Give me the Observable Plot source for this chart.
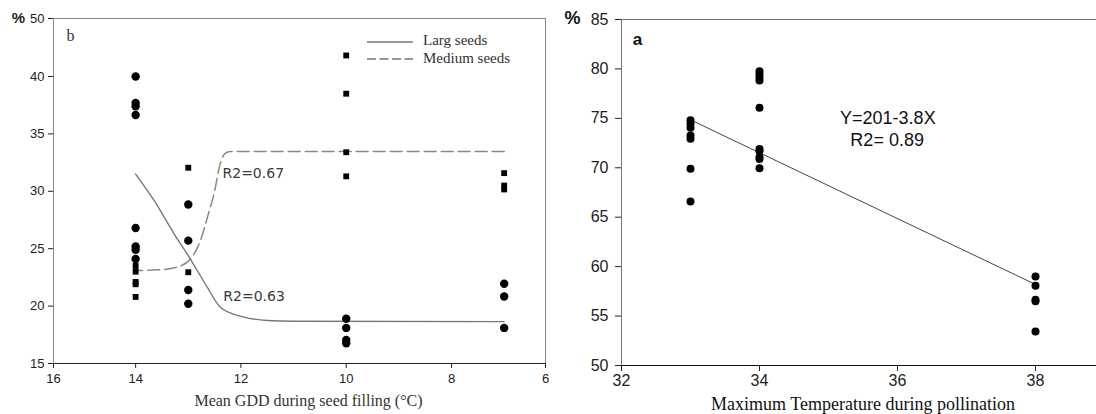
<!DOCTYPE html>
<html><head><meta charset="utf-8">
<script src="https://cdn.jsdelivr.net/npm/d3@7"></script>
<script src="https://cdn.jsdelivr.net/npm/@observablehq/plot@0.6"></script>
<style>
html,body{margin:0;padding:0;background:#fff;width:1096px;height:414px;overflow:hidden;}
#wrap{position:relative;width:1096px;height:414px;overflow:hidden;}
#left,#right{position:absolute;top:0;}
#left{left:0;width:560px;}
#right{left:560px;width:544px;}
#left svg,#right svg{max-width:none !important;display:block;}
#legend{position:absolute;left:367px;top:33px;font-family:"Liberation Serif",serif;font-size:15px;color:#333;}
#legend .row{display:flex;align-items:center;height:17.6px;}
#legend svg{margin-right:10px;}
#legend span{position:relative;top:-1px;}
</style></head>
<body>
<div id="wrap">
  <div id="left"></div>
  <div id="right"></div>
  <div id="legend">
    <div class="row"><svg width="46" height="10"><line x1="0" x2="46" y1="5" y2="5" stroke="#777" stroke-width="1.3"/></svg><span>Larg seeds</span></div>
    <div class="row"><svg width="46" height="10"><line x1="0" x2="46" y1="5" y2="5" stroke="#777" stroke-width="1.3" stroke-dasharray="9,3.5"/></svg><span>Medium seeds</span></div>
  </div>
</div>
<script>
// ---------- Panel b: Mean GDD during seed filling ----------
const gddLargeX = [14,14,14,14,14,14,14,14, 13,13,13,13, 10,10,10,10, 7,7,7];
const gddLargeY = [40.0,37.7,37.4,36.65,26.8,25.2,24.9,24.1, 28.85,25.7,21.4,20.2, 18.9,18.1,17.06,16.77, 21.94,20.84,18.1];
const gddMediumX = [14,14,14,14,14, 13,13, 10,10,10,10, 7,7,7];
const gddMediumY = [23.5,23.0,22.1,21.9,20.8, 32.05,22.95, 41.83,38.5,33.4,31.3, 31.58,30.5,30.16];
// fitted curves
const largeFitX = [7, 11, 11.5, 12.0, 12.39, 12.64, 12.96, 13.27, 13.65, 14];
const largeFitY = [18.65, 18.68, 18.75, 19.1, 19.9, 21.65, 24.1, 26.3, 29.2, 31.5];
const mediumFitX = [7, 12.2, 12.3, 12.4, 12.5, 12.62, 12.77, 12.96, 13.21, 13.53, 14];
const mediumFitY = [33.47, 33.47, 33.3, 32.3, 30.0, 28.0, 25.7, 24.1, 23.4, 23.16, 23.1];
const gddTickLabels = ["16","14","12","10","8","6"];
const gddPctTickLabels = ["15","20","25","30","35","40","50"];

// ---------- Panel a: Maximum temperature during pollination ----------
const tempX = [33,33,33,33,33,33,33, 34,34,34,34,34,34,34,34,34,34, 38,38,38,38,38];
const tempY = [74.8,74.45,74.05,73.27,72.93,69.9,66.6, 79.77,79.44,79.1,78.83,76.07,71.9,71.68,71.07,70.9,69.96, 59.0,58.06,56.65,56.5,53.44];
const tempFitX = [33, 38];
const tempFitY = [74.85, 58.2];
const tempTickLabels = ["32","34","36","38"];
const tempPctTickLabels = ["50","55","60","65","70","75","80","85"];

const zip = (xs, ys) => xs.map((x, i) => ({x, y: ys[i]}));

// left panel scale (axis drawn as in the original: end ticks sit on the frame)
const gddDomain = [15.56, 6.215];
const gddTicks = [gddDomain[0], 14, 12, 10, 8, gddDomain[1]];
const gddYDomain = [15, 45.05];
const gddYTicks = [15, 20, 25, 30, 35, 40, gddYDomain[1]];

const left = Plot.plot({
  width: 560, height: 414,
  marginLeft: 53, marginRight: 15, marginTop: 18, marginBottom: 51,
  x: {domain: gddDomain},
  y: {domain: gddYDomain},
  style: {fontFamily: "Liberation Sans, Arial, sans-serif", fontSize: "13px", color: "#222", background: "white", overflow: "visible"},
  marks: [
    Plot.frame({stroke: "#888"}),
    Plot.ruleY([gddYDomain[0]], {stroke: "#222"}),
    Plot.axisY({ticks: gddYTicks, tickFormat: (d, i) => gddPctTickLabels[i], tickSize: 5, tickPadding: 4, label: null, fontSize: 13}),
    Plot.axisX({ticks: gddTicks, tickFormat: (d, i) => gddTickLabels[i], tickSize: 5, tickPadding: 5, label: null, fontSize: 13}),
    Plot.line(zip(largeFitX, largeFitY), {x: "x", y: "y", stroke: "#777", strokeWidth: 1.4, curve: "monotone-x"}),
    Plot.line(zip(mediumFitX, mediumFitY), {x: "x", y: "y", stroke: "#888", strokeWidth: 1.5, strokeDasharray: "12,5", curve: "monotone-x"}),
    Plot.dot(zip(gddLargeX, gddLargeY), {x: "x", y: "y", r: 4.2, fill: "#000"}),
    Plot.dot(zip(gddMediumX, gddMediumY), {x: "x", y: "y", r: 3.3, symbol: "square", fill: "#000"}),
    Plot.text(["R2=0.67"], {text: d => d, x: 12.35, y: 31.55, textAnchor: "start", lineAnchor: "middle", fontFamily: "DejaVu Sans, Verdana, sans-serif", fontSize: 14, fill: "#3a3a3a"}),
    Plot.text(["R2=0.63"], {text: d => d, x: 12.335, y: 20.86, textAnchor: "start", lineAnchor: "middle", fontFamily: "DejaVu Sans, Verdana, sans-serif", fontSize: 14, fill: "#3a3a3a"}),
    Plot.text(["b"], {text: d => d, frameAnchor: "top-left", dx: 17, dy: 17, textAnchor: "middle", lineAnchor: "middle", fontFamily: "Liberation Serif, serif", fontSize: 16, fill: "#333"}),
    Plot.text(["%"], {text: d => d, frameAnchor: "top-left", dx: -35, dy: 0, textAnchor: "middle", lineAnchor: "middle", fontSize: 15, fontWeight: "bold", fill: "#222"}),
    Plot.text(["Mean GDD during seed filling (°C)"], {text: d => d, frameAnchor: "bottom", dx: 9, dy: 37, textAnchor: "middle", lineAnchor: "middle", fontFamily: "Liberation Serif, serif", fontSize: 16, fill: "#333"})
  ]
});
document.getElementById("left").appendChild(left);

const right = Plot.plot({
  width: 544, height: 414,
  marginLeft: 61, marginRight: 0, marginTop: 19, marginBottom: 49,
  x: {domain: [32, 39]},
  y: {domain: [50, 85]},
  style: {fontFamily: "Liberation Sans, Arial, sans-serif", fontSize: "16px", color: "#222", background: "white", overflow: "visible"},
  marks: [
    Plot.frame({stroke: "#777"}),
    Plot.ruleY([50], {stroke: "#111"}),
    Plot.axisY({ticks: [50,55,60,65,70,75,80,85], tickFormat: (d, i) => tempPctTickLabels[i], tickSize: 6, tickPadding: 7, label: null, fontSize: 16}),
    Plot.axisX({ticks: [32,34,36,38], tickFormat: (d, i) => tempTickLabels[i], tickSize: 6, tickPadding: 3, label: null, fontSize: 16}),
    Plot.line(zip(tempFitX, tempFitY), {x: "x", y: "y", stroke: "#444", strokeWidth: 1}),
    Plot.dot(zip(tempX, tempY), {x: "x", y: "y", r: 4, fill: "#000"}),
    Plot.text(["Y=201-3.8X"], {text: d => d, x: 35.86, y: 74.99, textAnchor: "middle", lineAnchor: "middle", fontSize: 18, fill: "#111"}),
    Plot.text(["R2= 0.89"], {text: d => d, x: 35.85, y: 72.76, textAnchor: "middle", lineAnchor: "middle", fontSize: 18, fill: "#111"}),
    Plot.text(["a"], {text: d => d, frameAnchor: "top-left", dx: 16, dy: 20.5, textAnchor: "middle", lineAnchor: "middle", fontSize: 17, fontWeight: "bold", fill: "#111"}),
    Plot.text(["%"], {text: d => d, frameAnchor: "top-left", dx: -49, dy: -1.5, textAnchor: "middle", lineAnchor: "middle", fontSize: 18, fontWeight: "bold", fill: "#111"}),
    Plot.text(["Maximum Temperature during pollination"], {text: d => d, x: 35.5, frameAnchor: "bottom", dy: 38.5, textAnchor: "middle", lineAnchor: "middle", fontFamily: "Liberation Serif, serif", fontSize: 18, fill: "#111"})
  ]
});
document.getElementById("right").appendChild(right);
</script>
</body></html>
